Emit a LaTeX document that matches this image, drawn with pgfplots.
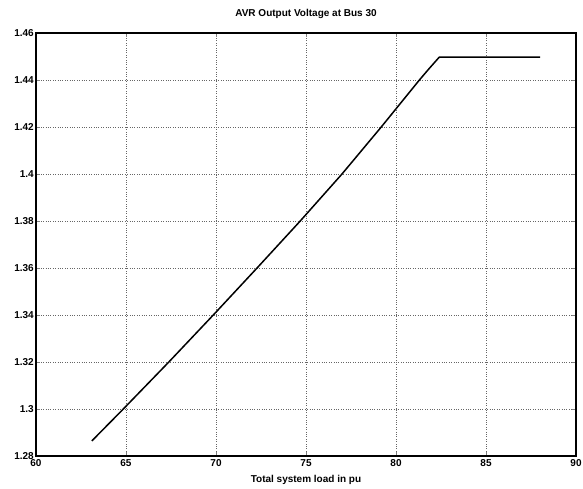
\documentclass[border=0pt]{standalone}
\usepackage{pgfplots}
\pgfplotsset{compat=1.18}
\usepackage{fontspec}
\setmainfont{Liberation Sans}
\begin{document}
\begin{tikzpicture}
\begin{axis}[
  name=main,
  scale only axis,
  width=540pt, height=423pt,
  xmin=60, xmax=90, ymin=1.28, ymax=1.46,
  xtick={60,65,...,90},
  ytick={1.28,1.30,1.32,1.34,1.36,1.38,1.40,1.42,1.44,1.46},
  /pgf/number format/assume math mode=true,
  /pgf/number format/fixed, /pgf/number format/precision=2,
  tick label style={font=\fontsize{10}{12}\selectfont\bfseries},
  xticklabel style={inner sep=1pt, yshift=-2pt},
  yticklabel style={inner sep=1pt, xshift=-1pt},
  tick align=inside,
  major tick length=4pt,
  xtick pos=both, ytick pos=both,
  axis line style={line width=1.4pt},
  grid=major,
  major grid style={black!60, dotted, line width=0.6pt},
  title={\fontsize{10}{12}\selectfont\bfseries AVR Output Voltage at Bus 30},
  title style={at={(axis description cs:0.5,1)}, anchor=south, inner sep=0pt, yshift=8pt},
  xlabel={\fontsize{10}{12}\selectfont\bfseries Total system load in pu},
  xlabel style={at={(axis description cs:0.5,0)}, anchor=center, yshift=-24pt},
]
\addplot[black, line width=1.5pt, line join=round] coordinates {
(63.1,1.2864) (64.85,1.30) (67.38,1.32) (69.85,1.34) (72.28,1.36) (74.68,1.38)
(77.0,1.40) (79.18,1.42) (81.3,1.44) (81.8,1.4445) (82.4,1.4497) (88,1.4497)
};
\end{axis}
\useasboundingbox ([shift={(-36pt,-32pt)}]main.south west) rectangle ([shift={(7pt,33pt)}]main.north east);
\end{tikzpicture}
\end{document}
